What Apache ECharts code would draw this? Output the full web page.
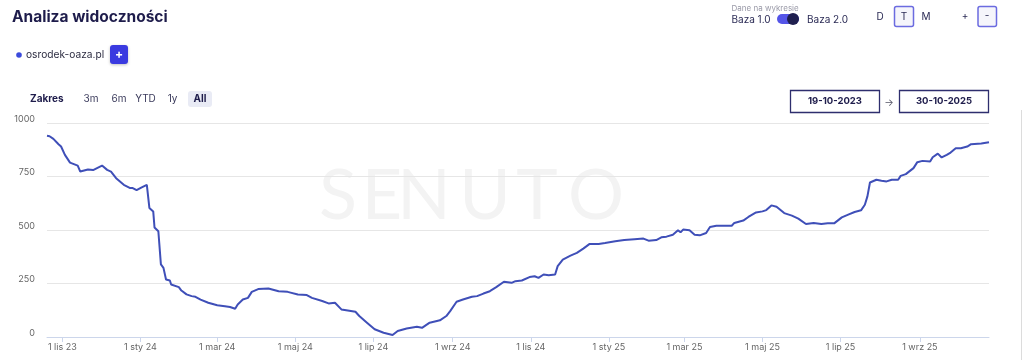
<!DOCTYPE html>
<html><head><meta charset="utf-8">
<script src="https://cdn.jsdelivr.net/npm/echarts@6/dist/echarts.min.js"></script>
<style>html,body{margin:0;padding:0;background:#fff;}#c{width:1024px;height:360px;}</style>
</head><body><div id="c"></div>
<script>
const dates = ['2023-10-20','2023-10-22','2023-10-25','2023-10-29','2023-10-31','2023-11-03','2023-11-07','2023-11-10','2023-11-13','2023-11-15','2023-11-21','2023-11-25','2023-12-02','2023-12-06','2023-12-09','2023-12-13','2023-12-19','2023-12-24','2023-12-26','2023-12-29','2024-01-02','2024-01-06','2024-01-08','2024-01-11','2024-01-12','2024-01-15','2024-01-17','2024-01-19','2024-01-21','2024-01-24','2024-01-25','2024-01-31','2024-02-02','2024-02-06','2024-02-10','2024-02-13','2024-02-17','2024-02-23','2024-03-01','2024-03-07','2024-03-11','2024-03-15','2024-03-17','2024-03-21','2024-03-25','2024-03-28','2024-04-02','2024-04-10','2024-04-18','2024-04-25','2024-05-03','2024-05-10','2024-05-14','2024-05-22','2024-05-27','2024-06-01','2024-06-06','2024-06-11','2024-06-17','2024-06-20','2024-06-26','2024-07-02','2024-07-09','2024-07-16','2024-07-20','2024-07-27','2024-08-04','2024-08-08','2024-08-14','2024-08-22','2024-08-27','2024-08-30','2024-09-04','2024-09-09','2024-09-16','2024-09-20','2024-09-25','2024-09-30','2024-10-05','2024-10-11','2024-10-17','2024-10-20','2024-10-25','2024-10-31','2024-11-04','2024-11-07','2024-11-11','2024-11-15','2024-11-20','2024-11-22','2024-11-26','2024-12-02','2024-12-07','2024-12-12','2024-12-17','2024-12-24','2024-12-29','2025-01-06','2025-01-13','2025-01-21','2025-01-28','2025-02-01','2025-02-07','2025-02-11','2025-02-15','2025-02-20','2025-02-24','2025-02-26','2025-02-28','2025-03-05','2025-03-09','2025-03-13','2025-03-18','2025-03-21','2025-03-26','2025-04-01','2025-04-07','2025-04-09','2025-04-16','2025-04-20','2025-04-26','2025-05-01','2025-05-04','2025-05-08','2025-05-12','2025-05-18','2025-05-24','2025-05-29','2025-06-04','2025-06-10','2025-06-16','2025-06-21','2025-06-26','2025-07-02','2025-07-07','2025-07-12','2025-07-17','2025-07-20','2025-07-22','2025-07-24','2025-07-29','2025-08-02','2025-08-06','2025-08-10','2025-08-15','2025-08-17','2025-08-21','2025-08-27','2025-08-30','2025-09-03','2025-09-09','2025-09-11','2025-09-15','2025-09-18','2025-09-22','2025-09-25','2025-09-29','2025-10-03','2025-10-08','2025-10-11','2025-10-19','2025-10-25'];
const values = [940,938,926,901,890,851,815,808,801,773,783,780,801,781,773,742,711,696,696,686,699,711,603,587,512,494,339,323,269,264,245,233,217,199,191,188,175,160,148,144,140,132,152,175,183,211,224,227,214,211,199,196,183,168,157,160,129,124,118,98,67,36,20,9,28,40,48,43,67,78,98,121,165,175,188,191,203,214,233,258,253,261,264,280,284,276,292,289,292,331,362,380,393,413,435,435,439,447,453,457,460,450,453,466,469,478,499,489,502,499,478,475,486,514,520,520,520,533,544,561,582,587,593,615,609,579,567,553,528,533,528,531,531,559,572,584,592,618,657,722,735,730,727,735,735,753,761,789,817,823,820,840,857,839,851,862,882,882,890,901,904,910];
const tickDates = ['2023-11-01','2024-01-01','2024-03-01','2024-05-01','2024-07-01','2024-09-01','2024-11-01','2025-01-01','2025-03-01','2025-05-01','2025-07-01','2025-09-01'];
const monthNames = ['sty','lut','mar','kwi','maj','cze','lip','sie','wrz','paź','lis','gru'];
const rangeStart = '2023-10-20';
const rangeEnd = '2025-10-25';
const seriesName = 'osrodek-oaza.pl';

function ts(s){ const p = s.split('-').map(Number); return new Date(p[0], p[1]-1, p[2]).getTime(); }
const FONT = "Inter, 'Noto Sans', sans-serif";
function txt(text, x, y, size, color, weight, align){
  return {type:'text', silent:true, style:{text:text, x:x, y:y, fill:color, font:(weight||'normal')+' '+size+'px '+FONT, textAlign:align||'left', align:align||'left', textVerticalAlign:'middle', verticalAlign:'middle'}};
}
const chart = echarts.init(document.getElementById('c'), null, {renderer:'canvas'});
const wm = ['S','E','N','U','T','O'];
const wmX = [338,382,424,485,537,596];
const graphics = [
  txt('Analiza widoczności', 12, 17, 15.5, '#1e1c4b', 'bold'),
  {type:'circle', silent:true, shape:{cx:19, cy:55, r:2.8}, style:{fill:'#3b4bdc'}},
  txt(seriesName, 26, 55, 10.2, '#2b2b40'),
  {type:'rect', silent:true, shape:{x:110, y:45, width:18, height:19, r:3}, style:{fill:'#3a3ae0', shadowBlur:3, shadowColor:'rgba(0,0,0,0.25)', shadowOffsetY:1}},
  txt('+', 119, 54.5, 12, '#ffffff', 'bold', 'center'),
  txt('Zakres', 30, 99, 10, '#1e1c4b', 'bold'),
  {type:'rect', silent:true, shape:{x:188, y:91, width:24, height:16, r:3}, style:{fill:'#e9ebf5'}},
  txt('3m', 91, 99, 10, '#3b3b5c', 'normal', 'center'),
  txt('6m', 119, 99, 10, '#3b3b5c', 'normal', 'center'),
  txt('YTD', 145.5, 99, 10, '#3b3b5c', 'normal', 'center'),
  txt('1y', 172.5, 99, 10, '#3b3b5c', 'normal', 'center'),
  txt('All', 200, 99, 10, '#1e1c4b', 'bold', 'center'),
  txt('Dane na wykresie', 731.5, 8.5, 8, '#9a9aa8'),
  txt('Baza 1.0', 731.5, 19.5, 10, '#2b2b55'),
  {type:'rect', silent:true, shape:{x:777, y:14, width:22, height:10, r:5}, style:{fill:'#5555e8'}},
  {type:'circle', silent:true, shape:{cx:793, cy:19, r:6}, style:{fill:'#1f1f4f'}},
  txt('Baza 2.0', 807, 19.5, 10, '#2b2b55'),
  txt('D', 880, 16.5, 10, '#2b2b55', 'normal', 'center'),
  {type:'rect', silent:true, shape:{x:894.5, y:6.5, width:19, height:20, r:2}, style:{fill:'#f5f5fb', stroke:'#6b6be0', lineWidth:1.5}},
  txt('T', 904, 16.5, 10, '#2b2b55', 'normal', 'center'),
  txt('M', 926, 16.5, 10, '#2b2b55', 'normal', 'center'),
  txt('+', 965, 15.5, 10, '#2b2b55', 'normal', 'center'),
  {type:'rect', silent:true, shape:{x:978, y:6.5, width:18.5, height:20, r:2}, style:{fill:'#f5f5fb', stroke:'#6b6be0', lineWidth:1.5}},
  txt('-', 987, 16, 10, '#2b2b55', 'normal', 'center'),
  {type:'rect', silent:true, shape:{x:790.5, y:90.5, width:89, height:22}, style:{fill:'#fff', stroke:'#2e2e6e', lineWidth:1.3}},
  txt('19-10-2023', 835, 101.5, 9.5, '#1e1c4b', 'bold', 'center'),
  txt('→', 889, 102.5, 10, '#555566', 'normal', 'center'),
  {type:'rect', silent:true, shape:{x:899.5, y:90.5, width:89, height:22}, style:{fill:'#fff', stroke:'#2e2e6e', lineWidth:1.3}},
  txt('30-10-2025', 944, 101.5, 9.5, '#1e1c4b', 'bold', 'center'),
  {type:'line', silent:true, shape:{x1:1021.5, y1:110, x2:1021.5, y2:360}, style:{stroke:'#dcdcdc', lineWidth:1}}
];
wm.forEach((ch,i)=>{ graphics.push({type:'text', silent:true, z:-10, style:{text:ch, x:wmX[i], y:196, fill:'#f3f3f3', font:'normal 70px Lato, sans-serif', textAlign:'center', align:'center', textVerticalAlign:'middle', verticalAlign:'middle'}}); });

const tickValues = tickDates.map(ts);
const option = {
  animation:false,
  backgroundColor:'#ffffff',
  textStyle:{fontFamily:FONT},
  grid:{left:47, right:35, top:123, bottom:23, containLabel:false, outerBoundsMode:'none'},
  xAxis:{
    type:'value', min:ts(rangeStart), max:ts(rangeEnd), scale:true,
    axisLine:{show:true, lineStyle:{color:'#ccd6eb', width:1}},
    axisTick:{show:true, length:5, lineStyle:{color:'#ccd6eb'}, customValues:tickValues},
    axisLabel:{customValues:tickValues, fontSize:9, color:'#666666', margin:6, fontFamily:FONT,
      formatter:function(v){ const d=new Date(v); return d.getDate()+' '+monthNames[d.getMonth()]+' '+String(d.getFullYear()).slice(2); }},
    splitLine:{show:false}
  },
  yAxis:{
    type:'value', min:0, max:1000, interval:250,
    axisLine:{show:false}, axisTick:{show:false},
    axisLabel:{fontSize:9, color:'#666666', margin:12, verticalAlign:'bottom', lineHeight:8, fontFamily:FONT,
      formatter:function(v){ return String(v); }},
    splitLine:{show:true, lineStyle:{color:'#e6e6e6', width:1}}
  },
  series:[{
    name:seriesName, type:'line', showSymbol:false, symbol:'none', smooth:false,
    lineStyle:{color:'#3f4fb8', width:2}, itemStyle:{color:'#3f4fb8'},
    data:dates.map((d,i)=>[ts(d), values[i]])
  }],
  graphic:graphics
};
chart.setOption(option);
</script>
</body></html>
